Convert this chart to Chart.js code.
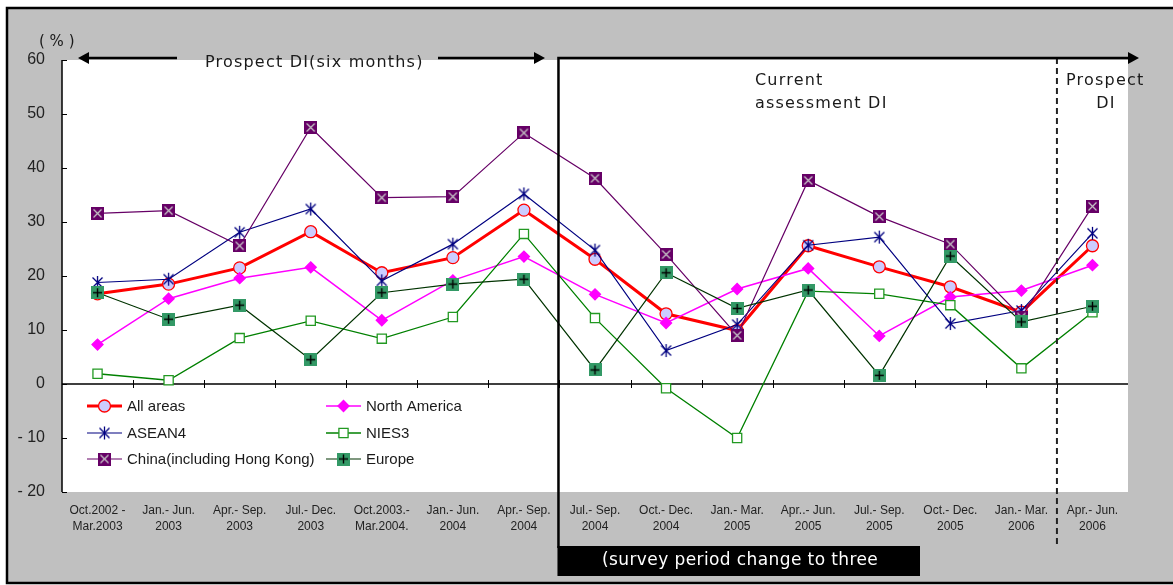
<!DOCTYPE html>
<html>
<head>
<meta charset="utf-8">
<script src="https://cdn.jsdelivr.net/npm/chart.js@4.4.1/dist/chart.umd.min.js"></script>
<style>
  html, body { margin: 0; padding: 0; background: #fff; }
  #wrap { width: 1173px; height: 585px; }
</style>
</head>
<body>
<div id="wrap"><canvas id="chartCanvas" width="1173" height="585"></canvas></div>
<script>
// ---------- data ----------
const periodTop = ["Oct.2002 -", "Jan.- Jun.", "Apr.- Sep.", "Jul.- Dec.", "Oct.2003.-", "Jan.- Jun.", "Apr.- Sep.",
  "Jul.- Sep.", "Oct.- Dec.", "Jan.- Mar.", "Apr..- Jun.", "Jul.- Sep.", "Oct.- Dec.", "Jan.- Mar.", "Apr.- Jun."];
const periodBottom = ["Mar.2003", "2003", "2003", "2003", "Mar.2004.", "2004", "2004",
  "2004", "2004", "2005", "2005", "2005", "2005", "2006", "2006"];
const yTickLabels = ["- 20", "- 10", "0", "10", "20", "30", "40", "50", "60"];

const allAreas     = [16.7, 18.5, 21.5, 28.2, 20.6, 23.4, 32.2, 23.1, 13.0, 9.9, 25.6, 21.7, 18.0, 13.3, 25.6];
const northAmerica = [7.3, 15.8, 19.6, 21.6, 11.8, 19.2, 23.6, 16.6, 11.3, 17.6, 21.4, 8.9, 16.1, 17.3, 22.0];
const asean4       = [18.8, 19.4, 28.1, 32.4, 19.1, 25.9, 35.2, 24.8, 6.2, 11.0, 25.7, 27.2, 11.2, 13.6, 27.9];
const nies3        = [1.9, 0.7, 8.5, 11.7, 8.4, 12.4, 27.8, 12.2, -0.8, -10.0, 17.2, 16.7, 14.6, 2.9, 13.3];
const china        = [31.6, 32.1, 25.6, 47.5, 34.5, 34.7, 46.5, 38.1, 24.0, 9.0, 37.7, 31.0, 25.9, 12.4, 32.9];
const europe       = [16.9, 12.0, 14.6, 4.5, 16.9, 18.5, 19.4, 2.6, 20.6, 14.0, 17.4, 1.6, 23.7, 11.5, 14.4];

// ---------- marker images ----------
function markerCanvas(size, paint) {
  const c = document.createElement("canvas");
  c.width = size; c.height = size;
  paint(c.getContext("2d"), size);
  return c;
}
const asteriskMark = markerCanvas(15, (g, s) => {
  g.strokeStyle = "#000080"; g.lineWidth = 1.3;
  g.beginPath();
  g.moveTo(s / 2, 1); g.lineTo(s / 2, s - 1);
  g.moveTo(2.5, 2.5); g.lineTo(s - 2.5, s - 2.5);
  g.moveTo(s - 2.5, 2.5); g.lineTo(2.5, s - 2.5);
  g.stroke();
});
const chinaMark = markerCanvas(13, (g, s) => {
  g.fillStyle = "#660066"; g.fillRect(0, 0, s, s);
  g.strokeStyle = "#c8c8c8"; g.lineWidth = 1.2;
  g.beginPath();
  g.moveTo(2.5, 2.5); g.lineTo(s - 2.5, s - 2.5);
  g.moveTo(s - 2.5, 2.5); g.lineTo(2.5, s - 2.5);
  g.stroke();
});
const europeMark = markerCanvas(13, (g, s) => {
  g.fillStyle = "#339966"; g.fillRect(0, 0, s, s);
  g.strokeStyle = "#000"; g.lineWidth = 1.4;
  g.beginPath();
  g.moveTo(s / 2, 2); g.lineTo(s / 2, s - 2);
  g.moveTo(2, s / 2); g.lineTo(s - 2, s / 2);
  g.stroke();
});

// ---------- helpers ----------
function arrowHead(ctx, tipX, y, dir) {
  ctx.beginPath();
  ctx.moveTo(tipX, y);
  ctx.lineTo(tipX - dir * 11, y - 6);
  ctx.lineTo(tipX - dir * 11, y + 6);
  ctx.closePath();
  ctx.fill();
}

const legendItems = [
  { ds: 0, col: 0, row: 0 }, { ds: 2, col: 0, row: 1 }, { ds: 4, col: 0, row: 2 },
  { ds: 1, col: 1, row: 0 }, { ds: 3, col: 1, row: 1 }, { ds: 5, col: 1, row: 2 }
];

const framePlugin = {
  id: "framePlugin",
  beforeDraw(chart) {
    const { ctx, chartArea: a, width, height } = chart;
    ctx.save();
    ctx.fillStyle = "#fff";
    ctx.fillRect(0, 0, width, height);
    ctx.fillStyle = "#c0c0c0";
    ctx.fillRect(7, 8, width - 7, height - 10);
    ctx.fillStyle = "#fff";
    ctx.fillRect(a.left, a.top, a.right - a.left, a.bottom - a.top);
    ctx.restore();
  },
  beforeDatasetsDraw(chart) {
    const { ctx, chartArea: a, scales } = chart;
    const y0 = scales.y.getPixelForValue(0);
    const step = (a.right - a.left) / periodTop.length;
    ctx.save();
    ctx.strokeStyle = "#000";
    ctx.lineWidth = 1.5;
    ctx.beginPath();
    ctx.moveTo(a.left, a.top); ctx.lineTo(a.left, a.bottom);
    ctx.moveTo(a.left, y0); ctx.lineTo(a.right, y0);
    ctx.stroke();
    ctx.lineWidth = 1;
    ctx.beginPath();
    for (let v = -20; v <= 60; v += 10) {
      const y = Math.round(scales.y.getPixelForValue(v)) + 0.5;
      ctx.moveTo(a.left, y); ctx.lineTo(a.left + 5, y);
    }
    for (let i = 1; i < periodTop.length; i++) {
      const x = Math.round(a.left + i * step) + 0.5;
      ctx.moveTo(x, y0 - 4); ctx.lineTo(x, y0 + 4);
    }
    ctx.stroke();
    ctx.restore();
  },
  afterDraw(chart) {
    const { ctx, chartArea: a, scales } = chart;
    const xs = scales.x;
    const split = (xs.getPixelForValue(6) + xs.getPixelForValue(7)) / 2 - 1;
    const dashX = (xs.getPixelForValue(13) + xs.getPixelForValue(14)) / 2;
    const topY = 58;
    ctx.save();

    // outer border
    ctx.strokeStyle = "#000";
    ctx.lineWidth = 2.5;
    ctx.strokeRect(7, 8, chart.width + 10, chart.height - 10);

    // dashed separator
    ctx.strokeStyle = "#222";
    ctx.lineWidth = 2;
    ctx.setLineDash([6, 4]);
    ctx.beginPath();
    ctx.moveTo(dashX, topY); ctx.lineTo(dashX, 548);
    ctx.stroke();
    ctx.setLineDash([]);

    // current assessment frame
    ctx.strokeStyle = "#000";
    ctx.fillStyle = "#000";
    ctx.lineWidth = 2.5;
    ctx.beginPath();
    ctx.moveTo(split, 548); ctx.lineTo(split, topY); ctx.lineTo(a.right + 2, topY);
    ctx.stroke();
    arrowHead(ctx, a.right + 11, topY, 1);
    ctx.fillRect(split - 1, 546, 921 - split, 30);

    // prospect double arrow
    ctx.beginPath();
    ctx.moveTo(86, topY); ctx.lineTo(177, topY);
    ctx.moveTo(438, topY); ctx.lineTo(536, topY);
    ctx.stroke();
    arrowHead(ctx, 78, topY, -1);
    arrowHead(ctx, 545, topY, 1);

    // texts
    ctx.fillStyle = "#1a1a1a";
    ctx.textBaseline = "middle";
    ctx.textAlign = "left";
    ctx.font = "16px 'DejaVu Sans'";
    ctx.letterSpacing = "1.2px";
    ctx.fillText("Prospect DI(six months)", 205, 63);
    ctx.fillText("Current", 755, 81);
    ctx.fillText("assessment DI", 755, 104);
    ctx.fillText("Prospect", 1066, 81);
    ctx.textAlign = "center";
    ctx.fillText("DI", 1106, 104);
    ctx.textAlign = "left";
    ctx.letterSpacing = "0px";
    ctx.font = "15px 'DejaVu Sans'";
    ctx.fillText("( % )", 39, 42);

    ctx.fillStyle = "#fff";
    ctx.font = "17px 'DejaVu Sans'";
    ctx.letterSpacing = "0.4px";
    ctx.fillText("(survey period change to three", 602, 561);
    ctx.letterSpacing = "0px";

    // legend
    const colX = [87, 326];
    const rowY = [406, 433, 459];
    ctx.font = "15px 'Liberation Sans'";
    ctx.textBaseline = "middle";
    legendItems.forEach(it => {
      const ds = chart.data.datasets[it.ds];
      const x = colX[it.col], y = rowY[it.row];
      ctx.strokeStyle = ds.borderColor;
      ctx.lineWidth = ds.borderWidth;
      ctx.beginPath();
      ctx.moveTo(x, y); ctx.lineTo(x + 35, y);
      ctx.stroke();
      ctx.fillStyle = ds.pointBackgroundColor;
      ctx.strokeStyle = ds.pointBorderColor;
      ctx.lineWidth = ds.pointBorderWidth;
      Chart.helpers.drawPoint(ctx, { pointStyle: ds.pointStyle, radius: ds.pointRadius, rotation: 0, borderWidth: ds.pointBorderWidth }, x + 17.5, y);
      ctx.fillStyle = "#1a1a1a";
      ctx.fillText(ds.label, x + 40, y + 1);
    });
    ctx.restore();
  }
};

// later series are drawn on top, as in the original
function series(label, data, color, width, style, radius, fill, border, order) {
  return {
    label, data, order,
    borderColor: color, borderWidth: width,
    pointStyle: style, pointRadius: radius,
    pointBackgroundColor: fill, pointBorderColor: border, pointBorderWidth: 1.3,
    tension: 0, fill: false
  };
}

new Chart(document.getElementById("chartCanvas"), {
  type: "line",
  data: {
    labels: periodTop.map((t, i) => [t, periodBottom[i]]),
    datasets: [
      series("All areas", allAreas, "#ff0000", 3, "circle", 6, "#ccccff", "#ff0000", 5),
      series("North America", northAmerica, "#ff00ff", 1.5, "rectRot", 5.5, "#ff00ff", "#ff00ff", 4),
      series("ASEAN4", asean4, "#000080", 1.2, asteriskMark, 7, "#000080", "#000080", 3),
      series("NIES3", nies3, "#008000", 1.3, "rect", 6.5, "#ffffff", "#229922", 2),
      series("China(including Hong Kong)", china, "#660066", 1.2, chinaMark, 7, "#660066", "#660066", 1),
      series("Europe", europe, "#003300", 1.2, europeMark, 7, "#339966", "#339966", 0)
    ]
  },
  options: {
    responsive: false,
    animation: false,
    devicePixelRatio: 1,
    layout: { padding: { left: 0, top: 60, right: 45, bottom: 0 } },
    plugins: { legend: { display: false }, tooltip: { enabled: false } },
    scales: {
      x: {
        offset: true,
        grid: { display: false },
        border: { display: false },
        ticks: {
          color: "#222", autoSkip: false, maxRotation: 0, padding: 3,
          font: { family: "'Liberation Sans'", size: 12, lineHeight: 1.3 }
        },
        afterFit(s) { s.height = 93; }
      },
      y: {
        min: -20, max: 60,
        grid: { display: false },
        border: { display: false },
        ticks: {
          stepSize: 10, color: "#222", padding: 9,
          font: { family: "'Liberation Sans'", size: 16 },
          callback: (v, i) => yTickLabels[i]
        },
        afterFit(s) { s.width = 62; }
      }
    }
  },
  plugins: [framePlugin]
});
</script>
</body>
</html>
